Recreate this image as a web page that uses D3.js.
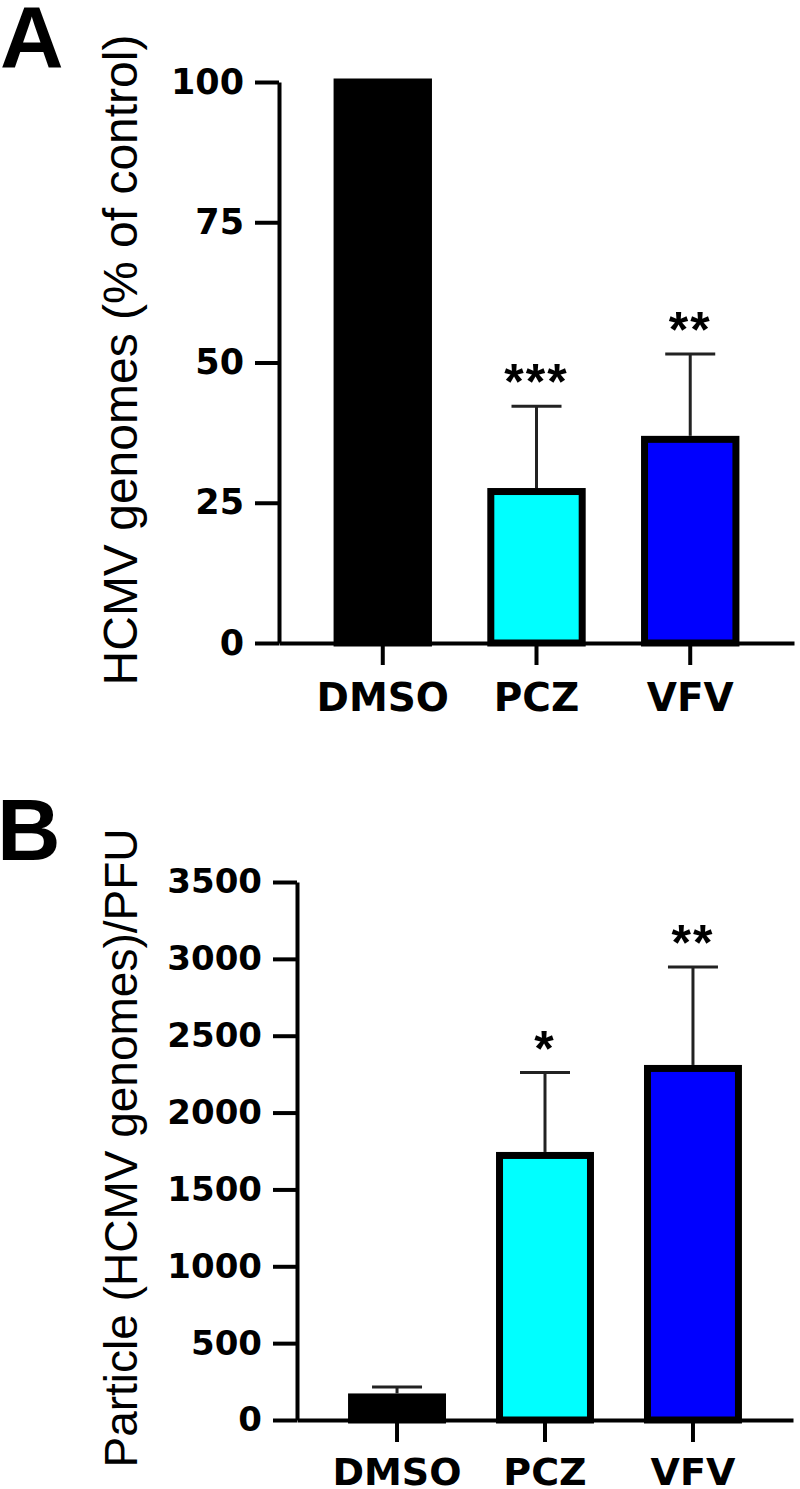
<!DOCTYPE html>
<html>
<head>
<meta charset="utf-8">
<script src="https://cdn.jsdelivr.net/npm/d3@7"></script>
<style>
  body { margin: 0; background: #fff; }
  svg { display: block; }
  .tick text { font-family: "DejaVu Sans", sans-serif; font-weight: bold; fill: #000; }
</style>
</head>
<body>
<div id="chart"></div>
<script>
// data
const categories = ['DMSO', 'PCZ', 'VFV'];
const colors = ['#000000', '#00ffff', '#0000ff'];

const genomesMean = [100, 27, 36.3];
const genomesSd = [0, 15.2, 15.2];
const genomesStars = ['', '***', '**'];
const genomesTicks = [0, 25, 50, 75, 100];

const ratioMean = [150, 1721, 2287];
const ratioSd = [65, 539, 660];
const ratioStars = ['', '*', '**'];
const ratioTicks = [0, 500, 1000, 1500, 2000, 2500, 3000, 3500];

const width = 800;
const height = 1489;

const svg = d3.select('#chart')
  .append('svg')
  .attr('width', width)
  .attr('height', height);

function drawPanel(opts) {
  const g = svg.append('g');

  const y = d3.scaleLinear()
    .domain([0, opts.ticks[opts.ticks.length - 1]])
    .range([opts.bottom, opts.top]);

  const x = d3.scaleBand()
    .domain(categories)
    .range([opts.left, opts.right])
    .paddingInner(opts.padIn)
    .paddingOuter(opts.padOut);

  // y axis
  const yAxis = g.append('g')
    .attr('transform', `translate(${opts.left},0)`)
    .call(d3.axisLeft(y).tickValues(opts.ticks).tickFormat(d3.format('d'))
      .tickSize(24).tickSizeOuter(0).tickPadding(11));
  yAxis.selectAll('path, line').attr('stroke', '#000').attr('stroke-width', 4);
  yAxis.selectAll('text').style('font-size', opts.tickFont + 'px');

  // bars
  const bw = x.bandwidth();
  g.selectAll('rect.bar')
    .data(opts.mean).enter()
    .append('rect')
    .attr('class', 'bar')
    .attr('x', (d, i) => x(categories[i]) + 3.5)
    .attr('width', bw - 7)
    .attr('y', d => y(d))
    .attr('height', d => y(0) - y(d))
    .attr('fill', (d, i) => colors[i])
    .attr('stroke', '#000')
    .attr('stroke-width', 7);

  // error bars (upper only)
  const errs = opts.mean.map((m, i) => ({ m: m, sd: opts.sd[i], c: categories[i], star: opts.stars[i] }))
    .filter(d => d.sd > 0);
  const cx = d => x(d.c) + bw / 2;

  g.selectAll('line.err')
    .data(errs).enter()
    .append('line')
    .attr('x1', cx).attr('x2', cx)
    .attr('y1', d => y(d.m) - 3.5)
    .attr('y2', d => y(d.m + d.sd))
    .attr('stroke', '#222').attr('stroke-width', 3);

  g.selectAll('line.cap')
    .data(errs).enter()
    .append('line')
    .attr('x1', d => cx(d) - 25).attr('x2', d => cx(d) + 25)
    .attr('y1', d => y(d.m + d.sd)).attr('y2', d => y(d.m + d.sd))
    .attr('stroke', '#222').attr('stroke-width', 3);

  // significance stars
  g.selectAll('text.star')
    .data(errs.filter(d => d.star)).enter()
    .append('text')
    .attr('x', cx)
    .attr('y', d => y(d.m + d.sd) - 36 + 29)
    .attr('text-anchor', 'middle')
    .style('font-family', '"Liberation Sans", Arial, sans-serif')
    .style('font-weight', 'bold')
    .style('font-size', '50px')
    .style('letter-spacing', '2px')
    .text(d => d.star);

  // x axis
  const xAxis = g.append('g')
    .attr('transform', `translate(0,${opts.bottom})`)
    .call(d3.axisBottom(x).tickSize(22).tickSizeOuter(0).tickPadding(opts.xPad));
  xAxis.selectAll('path, line').attr('stroke', '#000').attr('stroke-width', 4);
  xAxis.selectAll('text').style('font-size', opts.xFont + 'px');

  // axis title
  g.append('text')
    .attr('transform', `translate(137,${opts.titleY}) rotate(-90)`)
    .attr('text-anchor', 'middle')
    .style('font-family', '"Liberation Sans", Arial, sans-serif')
    .style('font-size', opts.titleFont + 'px')
    .text(opts.title);

  // panel letter
  g.append('text')
    .attr('x', opts.letterX)
    .attr('y', opts.letterY)
    .style('font-family', '"Liberation Sans", Arial, sans-serif')
    .style('font-weight', 'bold')
    .style('font-size', '88px')
    .text(opts.letter);
}

drawPanel({
  mean: genomesMean, sd: genomesSd, stars: genomesStars, ticks: genomesTicks,
  top: 82, bottom: 643, left: 279, right: 794, padIn: 0.36, padOut: 0.355,
  tickFont: 35, xPad: 18, xFont: 39,
  title: 'HCMV genomes (% of control)', titleY: 360, titleFont: 48,
  letter: 'A', letterX: 0, letterY: 67
});

drawPanel({
  mean: ratioMean, sd: ratioSd, stars: ratioStars, ticks: ratioTicks,
  top: 882, bottom: 1420, left: 297, right: 793, padIn: 0.338, padOut: 0.345,
  tickFont: 34, xPad: 16, xFont: 38,
  title: 'Particle (HCMV genomes)/PFU', titleY: 1148, titleFont: 46,
  letter: 'B', letterX: -3, letterY: 860
});
</script>
</body>
</html>
